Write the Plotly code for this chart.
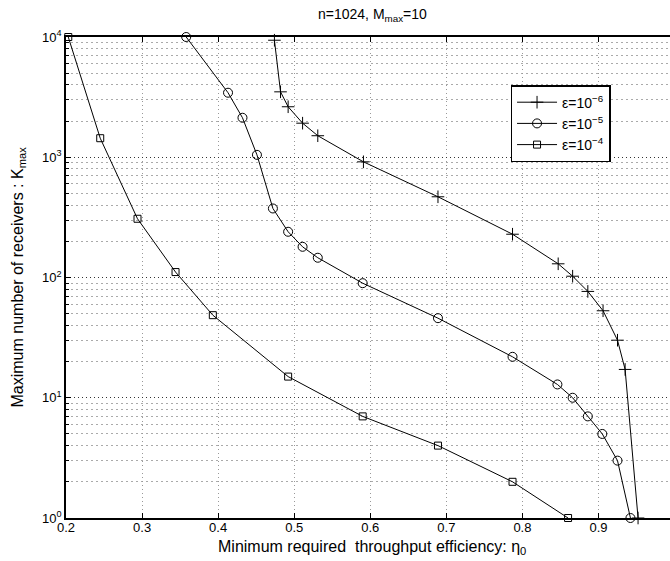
import plotly.graph_objects as go

# Minimum required throughput efficiency eta_0 vs. maximum number of receivers K_max
eta_e6 = [0.474, 0.482, 0.492, 0.511, 0.531, 0.591, 0.689, 0.787, 0.847, 0.866,
          0.886, 0.906, 0.925, 0.935, 0.952]
k_e6 = [9400, 3500, 2630, 1920, 1510, 916, 469, 229, 130, 102.5, 76.6, 52.9, 30.1, 17.2, 1]

eta_e5 = [0.358, 0.413, 0.432, 0.451, 0.472, 0.492, 0.511, 0.531, 0.590, 0.689,
          0.787, 0.846, 0.866, 0.886, 0.905, 0.925, 0.942]
k_e5 = [10000, 3440, 2130, 1047, 375, 240, 180, 146, 89.7, 45.9, 21.9, 12.9, 10, 7, 5, 3, 1]

eta_e4 = [0.203, 0.245, 0.294, 0.344, 0.393, 0.492, 0.590, 0.689, 0.787, 0.860]
k_e4 = [10000, 1440, 308, 111, 48.6, 15, 7, 4, 2, 1]

series_names = ["ε=10<sup>−6</sup>", "ε=10<sup>−5</sup>", "ε=10<sup>−4</sup>"]
x_ticks = [0.2, 0.3, 0.4, 0.5, 0.6, 0.7, 0.8, 0.9]
y_ticks = [1, 10, 100, 1000, 10000]
y_ticktext = ["10<sup>0</sup>", "10<sup>1</sup>", "10<sup>2</sup>", "10<sup>3</sup>", "10<sup>4</sup>"]

FONT = "Liberation Sans, Arial, Helvetica, sans-serif"

fig = go.Figure()
styles = [
    dict(symbol="cross-thin", size=9),
    dict(symbol="circle-open", size=9),
    dict(symbol="square-open", size=7),
]
for xs, ys, name, st in zip([eta_e6, eta_e5, eta_e4], [k_e6, k_e5, k_e4], series_names, styles):
    fig.add_trace(go.Scatter(
        x=xs, y=ys, name=name, mode="lines+markers",
        line=dict(color="black", width=1),
        marker=dict(symbol=st["symbol"], size=st["size"], color="black",
                    line=dict(color="black", width=1)),
        cliponaxis=False,
    ))

minor_y = [m * 10 ** d for d in range(4) for m in range(2, 10)]

fig.update_xaxes(
    range=[0.2, 0.994], tickvals=x_ticks, ticktext=[f"{v:.1f}" for v in x_ticks],
    showline=True, linecolor="black", linewidth=1.5, mirror="ticks",
    ticks="inside", ticklen=5, tickcolor="black", ticklabelstandoff=-3,
    showgrid=True, gridcolor="#999", griddash="1px,3px", gridwidth=1,
    zeroline=False, automargin=False,
    tickfont=dict(family=FONT, size=13, color="black"),
)
fig.update_yaxes(
    type="log", range=[0, 4], tickvals=y_ticks, ticktext=y_ticktext,
    showline=True, linecolor="black", linewidth=1.5, mirror=False,
    ticks="inside", ticklen=5, tickcolor="black",
    showgrid=True, gridcolor="#333", griddash="1px,3px", gridwidth=1,
    minor=dict(tickvals=minor_y, ticks="inside", ticklen=3, tickcolor="black",
               showgrid=True, gridcolor="#aaa", griddash="2px,3px", gridwidth=1),
    zeroline=False, automargin=False,
    tickfont=dict(family=FONT, size=13, color="black"),
)

fig.add_annotation(
    text="n=1024, M<sub>max</sub>=10", xref="paper", yref="paper",
    x=0.507, y=1.0, yshift=22, xanchor="center", yanchor="middle", showarrow=False,
    font=dict(family=FONT, size=14, color="black"),
)
fig.add_annotation(
    text="Minimum required\u00a0 throughput efficiency: η<sub>0</sub>",
    xref="paper", yref="paper", x=0.507, y=0, yshift=-29,
    xanchor="center", yanchor="middle", showarrow=False,
    font=dict(family=FONT, size=16, color="black"),
)
fig.add_annotation(
    text="Maximum number of receivers : K<sub>max</sub>",
    xref="paper", yref="paper", x=0, xshift=-48, y=0.5,
    xanchor="center", yanchor="middle", textangle=-90, showarrow=False,
    font=dict(family=FONT, size=16, color="black"),
)

fig.update_layout(
    width=670, height=561,
    margin=dict(l=66, r=0, t=37, b=43),
    paper_bgcolor="white", plot_bgcolor="white",
    showlegend=True,
    legend=dict(
        x=0.736, y=0.9, xanchor="left", yanchor="top",
        bgcolor="white", bordercolor="black", borderwidth=1.5,
        font=dict(family=FONT, size=14, color="black"),
        itemwidth=40, tracegroupgap=0,
    ),
    font=dict(family=FONT, color="black"),
)

fig.write_html("out.html")
